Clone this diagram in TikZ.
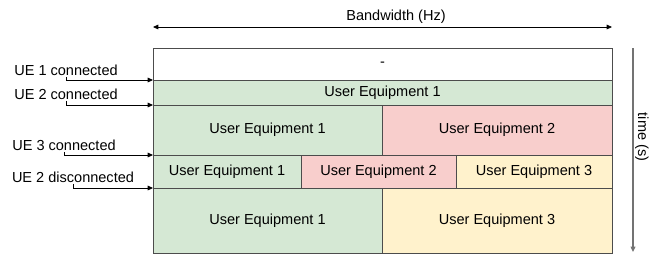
\documentclass[tikz,border=0pt]{standalone}
\usepackage{fontspec}
\setmainfont{Liberation Sans}
\usetikzlibrary{arrows.meta}
\usetikzlibrary{positioning}

\definecolor{uegreen}{HTML}{D5E8D4}
\definecolor{uered}{HTML}{F8CECC}
\definecolor{ueyellow}{HTML}{FFF2CC}

\tikzset{
  cell/.style={draw=black!70, line width=0.6pt, anchor=north west, inner sep=0pt, outer sep=0pt,
    font=\fontsize{10.9}{13}\selectfont},
  evlabel/.style={font=\fontsize{10.9}{13}\selectfont, inner sep=1pt},
  evarrow/.style={-{Triangle[length=4pt,width=3.5pt]}, line width=0.6pt}
}

\begin{document}
\begin{tikzpicture}[x=0.75pt,y=-0.75pt]
        \useasboundingbox (0,0) rectangle (664,269);
        % resource grid
        \node[cell, fill=white, minimum width=459*0.75pt, minimum height=32*0.75pt] (row0) at (153,48) {-};
        \node[cell, fill=uegreen, minimum width=459*0.75pt, minimum height=25*0.75pt] (row1) at (153,80) {User Equipment 1};
        \node[cell, fill=uegreen, minimum width=229*0.75pt, minimum height=50*0.75pt] (row2a) at (153,105) {User Equipment 1};
        \node[cell, fill=uered, minimum width=230*0.75pt, minimum height=50*0.75pt] (row2b) at (382,105) {User Equipment 2};
        \node[cell, fill=uegreen, minimum width=148*0.75pt, minimum height=33*0.75pt] (row3a) at (153,155) {User Equipment 1};
        \node[cell, fill=uered, minimum width=155*0.75pt, minimum height=33*0.75pt] (row3b) at (301,155) {User Equipment 2};
        \node[cell, fill=ueyellow, minimum width=156*0.75pt, minimum height=33*0.75pt] (row3c) at (456,155) {User Equipment 3};
        \node[cell, fill=uegreen, minimum width=229*0.75pt, minimum height=65*0.75pt] (row4a) at (153,188) {User Equipment 1};
        \node[cell, fill=ueyellow, minimum width=230*0.75pt, minimum height=65*0.75pt] (row4b) at (382,188) {User Equipment 3};
        % axes
        \coordinate (bwl) at (153,27);
        \coordinate (bwr) at (612,27);
        \draw[{Triangle[length=4pt,width=3.5pt]}-{Triangle[length=4pt,width=3.5pt]}, line width=0.6pt] (bwl) -- (bwr);
        \node[evlabel] (bw) at (396,17) {Bandwidth (Hz)};
        \coordinate (tt) at (633,48);
        \coordinate (tb) at (633,252);
        \draw[-{Triangle[length=4pt,width=3.5pt]}, line width=0.9pt, black!55] (tt) -- (tb);
        \node[evlabel, rotate=-90] (time) at (642,137) {time (s)};
        % events
        \node[evlabel] (ue1c) at (66,70) {UE 1 connected};
        \node[evlabel] (ue2c) at (66,94) {UE 2 connected};
        \node[evlabel] (ue3c) at (64,145) {UE 3 connected};
        \node[evlabel] (ue2d) at (73,177) {UE 2 disconnected};
        \draw[evarrow] (ue1c.south) |- (row1.north west);
        \draw[evarrow] (ue2c.south) |- (row2a.north west);
        \draw[evarrow] (ue3c.south) |- (row3a.north west);
        \draw[evarrow] (ue2d.south) |- (row4a.north west);
    \end{tikzpicture}
\end{document}
